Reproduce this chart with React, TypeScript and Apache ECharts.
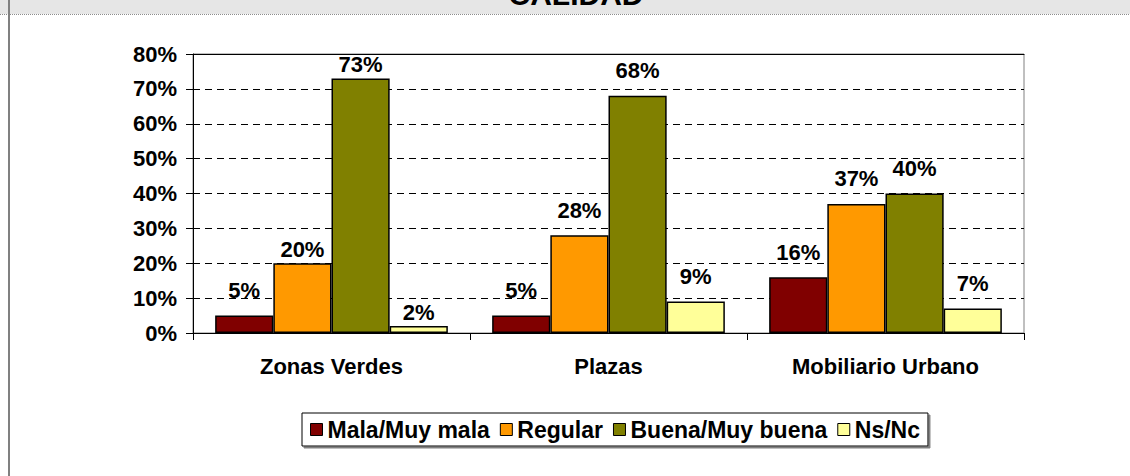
import React, { useEffect, useRef } from 'react';
import * as echarts from 'echarts';

const title = 'CALIDAD';
const categories = ['Zonas Verdes', 'Plazas', 'Mobiliario Urbano'];
const seriesNames = ['Mala/Muy mala', 'Regular', 'Buena/Muy buena', 'Ns/Nc'];
const malaMuyMala = [5, 5, 16];
const regular = [20, 28, 37];
const buenaMuyBuena = [73, 68, 40];
const nsNc = [2, 9, 7];
const yMin = 0;
const yMax = 80;
const yStep = 10;

const seriesValues = [malaMuyMala, regular, buenaMuyBuena, nsNc];
const colors = ['#800000', '#FF9900', '#808000', '#FFFF99'];
// labels that sit right on top of their bar (series index : category index)
const closeLabels = new Set(['1:0', '2:0', '3:0']);

const FONT = 'Arial, "Liberation Sans", Helvetica, sans-serif';

export default function App() {
  const ref = useRef<HTMLDivElement>(null);

  useEffect(() => {
    if (!ref.current) return;
    const chart = echarts.init(ref.current, undefined, { renderer: 'svg' });

    const series = seriesValues.map((vals, si) => ({
      name: seriesNames[si],
      type: 'bar',
      barGap: '0%',
      barCategoryGap: '16%',
      itemStyle: { color: colors[si], borderColor: '#000', borderWidth: 1.5 },
      label: {
        show: true,
        position: 'top',
        distance: 14,
        formatter: (p: any) => `${p.value}%`,
        color: '#000',
        fontFamily: FONT,
        fontWeight: 'bold',
        fontSize: 22,
      },
      data: vals.map((v, ci) =>
        closeLabels.has(`${si}:${ci}`) ? { value: v, label: { distance: 3 } } : v
      ),
    }));

    chart.setOption({
      animation: false,
      backgroundColor: '#ffffff',
      textStyle: { fontFamily: FONT },
      grid: {
        left: 193,
        right: 106,
        top: 54,
        bottom: 143,
        show: true,
        borderColor: '#808080',
        borderWidth: 1,
        containLabel: false,
        outerBoundsMode: 'none',
      },
      xAxis: [
        {
          type: 'category',
          data: categories,
          position: 'bottom',
          axisLine: { show: true, lineStyle: { color: '#000', width: 1 } },
          axisTick: { show: true, length: 7, lineStyle: { color: '#000' } },
          axisLabel: {
            margin: 22,
            color: '#000',
            fontFamily: FONT,
            fontWeight: 'bold',
            fontSize: 22,
          },
          splitLine: { show: false },
        },
        {
          type: 'category',
          data: categories,
          position: 'top',
          axisLine: { show: true, lineStyle: { color: '#000', width: 1 } },
          axisTick: { show: false },
          axisLabel: { show: false },
          splitLine: { show: false },
        },
      ],
      yAxis: {
        type: 'value',
        min: yMin,
        max: yMax,
        interval: yStep,
        axisLine: { show: true, lineStyle: { color: '#000', width: 1 } },
        axisTick: { show: true, length: 7, lineStyle: { color: '#000' } },
        axisLabel: {
          margin: 16,
          formatter: (v: number) => `${v}%`,
          color: '#000',
          fontFamily: FONT,
          fontWeight: 'bold',
          fontSize: 22,
        },
        splitLine: { show: true, lineStyle: { color: '#000', width: 1, type: [7, 5] } },
      },
      legend: {
        data: seriesNames,
        left: 302,
        top: 413,
        orient: 'horizontal',
        padding: [5, 8, 5, 8],
        itemGap: 10,
        itemWidth: 12,
        itemHeight: 12,
        icon: 'rect',
        itemStyle: { borderColor: '#000', borderWidth: 1 },
        backgroundColor: '#ffffff',
        borderColor: '#000',
        borderWidth: 1,
        shadowColor: '#808080',
        shadowOffsetX: 2,
        shadowOffsetY: 2,
        shadowBlur: 1,
        textStyle: { color: '#000', fontFamily: FONT, fontWeight: 'bold', fontSize: 23 },
      },
      graphic: [
        { type: 'rect', z: 100, shape: { x: 0, y: 0, width: 1130, height: 14 }, style: { fill: '#e6e6e6' } },
        {
          type: 'line',
          z: 101,
          shape: { x1: 0, y1: 14.5, x2: 1130, y2: 14.5 },
          style: { stroke: '#8c8c8c', lineWidth: 1, lineDash: [1, 1] },
        },
        { type: 'rect', z: 102, shape: { x: 8, y: 0, width: 2, height: 476 }, style: { fill: '#808080' } },
        {
          type: 'text',
          z: 103,
          x: 576,
          y: -6,
          style: {
            text: title,
            fill: '#000',
            font: `bold 30px ${FONT}`,
            textAlign: 'center',
            textVerticalAlign: 'middle',
          },
        },
      ],
      series,
    });

    return () => chart.dispose();
  }, []);

  return (
    <div
      ref={ref}
      style={{ position: 'absolute', left: 0, top: 0, width: 1130, height: 476 }}
    />
  );
}
